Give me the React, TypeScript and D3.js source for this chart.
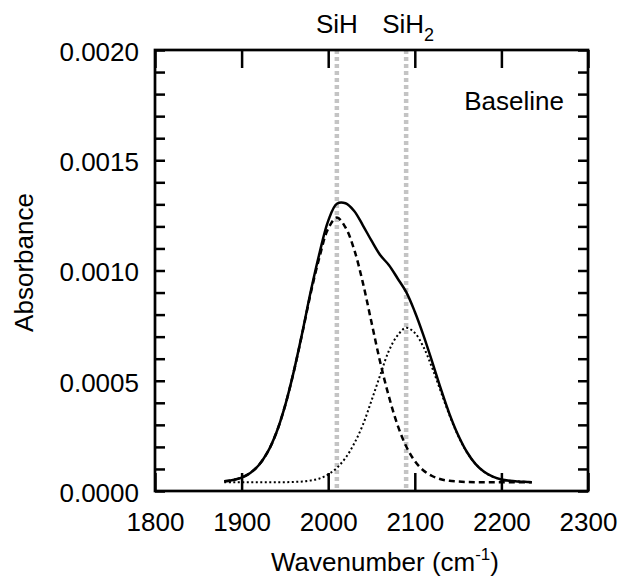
import React, { useEffect, useRef } from 'react';
import * as d3 from 'd3';

// wavenumber grid (cm-1)
const wavenumbers = [
  1880, 1890, 1900, 1910, 1920, 1930, 1940, 1950, 1960, 1970,
  1980, 1990, 2000, 2010, 2020, 2030, 2040, 2050, 2060, 2070,
  2080, 2090, 2100, 2110, 2120, 2130, 2140, 2150, 2160, 2170,
  2180, 2190, 2200, 2210, 2220, 2230, 2235,
];

// measured spectrum (solid)
const totalAbs = [
  0.000044, 0.00005, 0.000061, 0.000082, 0.000118, 0.000176, 0.000263, 0.000384, 0.000538, 0.000717,
  0.000908, 0.001079, 0.001225, 0.001303, 0.001305, 0.00127, 0.001205, 0.001135, 0.00107, 0.001025,
  0.000965, 0.000903, 0.000813, 0.000706, 0.000587, 0.000464, 0.00035, 0.000254, 0.000178, 0.000123,
  0.000087, 0.000065, 0.000052, 0.000046, 0.000043, 0.000041, 0.00004,
];

// SiH component (dashed)
const sihAbs = [
  0.000044, 0.00005, 0.000061, 0.000082, 0.000118, 0.000176, 0.000263, 0.000384, 0.000537, 0.000714,
  0.0009, 0.001062, 0.00119, 0.00124, 0.001195, 0.001095, 0.000945, 0.000765, 0.000585, 0.00043,
  0.0003, 0.000203, 0.000136, 0.000093, 0.000068, 0.000053, 0.000046, 0.000043, 0.000041, 0.00004,
  0.00004, 0.00004, 0.00004, 0.00004, 0.00004, 0.00004, 0.00004,
];

// SiH2 component (dotted)
const sih2Abs = [
  0.00004, 0.00004, 0.00004, 0.00004, 0.00004, 0.00004, 0.00004, 0.00004, 0.000041, 0.000043,
  0.000048, 0.000057, 0.000075, 0.000105, 0.00015, 0.000215, 0.0003, 0.00041, 0.000525, 0.000635,
  0.000705, 0.00074, 0.000717, 0.000653, 0.000559, 0.000451, 0.000344, 0.000251, 0.000177, 0.000123,
  0.000087, 0.000065, 0.000052, 0.000046, 0.000043, 0.000041, 0.00004,
];

const peakPositions = [2010, 2090];
const xTicks = [1800, 1900, 2000, 2100, 2200, 2300];
const yTicks = [
  0, 0.0001, 0.0002, 0.0003, 0.0004, 0.0005, 0.0006, 0.0007, 0.0008, 0.0009, 0.001,
  0.0011, 0.0012, 0.0013, 0.0014, 0.0015, 0.0016, 0.0017, 0.0018, 0.0019, 0.002,
];

const WIDTH = 623;
const HEIGHT = 577;
const FONT = '"Liberation Sans", Arial, Helvetica, sans-serif';
const margin = { top: 50, right: 35, bottom: 86, left: 155 };

const x = d3.scaleLinear().domain([1800, 2300]).range([margin.left, WIDTH - margin.right]);
const y = d3.scaleLinear().domain([0, 0.002]).range([HEIGHT - margin.bottom, margin.top]);

const isMajor = (d: number) => Math.round(d * 10000) % 5 === 0;

export default function App() {
  const bottomRef = useRef<SVGGElement>(null);
  const topRef = useRef<SVGGElement>(null);
  const leftRef = useRef<SVGGElement>(null);
  const rightRef = useRef<SVGGElement>(null);

  useEffect(() => {
    const style = (g: any) => {
      g.attr('font-family', FONT).attr('font-size', 26);
      g.select('.domain').remove();
      g.selectAll('line').attr('stroke', '#000').attr('stroke-width', 2.5);
      g.selectAll('text').attr('fill', '#000');
    };

    d3.select(bottomRef.current)
      .call(
        d3.axisBottom(x).tickValues(xTicks).tickSizeInner(-18).tickSizeOuter(0)
          .tickPadding(22).tickFormat(d3.format('d') as any)
      )
      .call(style);

    d3.select(topRef.current)
      .call(d3.axisTop(x).tickValues(xTicks).tickSizeInner(-18).tickSizeOuter(0).tickFormat(() => ''))
      .call(style);

    d3.select(leftRef.current)
      .call(
        d3.axisLeft(y).tickValues(yTicks).tickSizeInner(-10).tickSizeOuter(0).tickPadding(16)
          .tickFormat((d: any) => (isMajor(d) ? d3.format('.4f')(d) : ''))
      )
      .call(style);
    d3.select(leftRef.current).selectAll('text').attr('dy', '0.4em');

    d3.select(rightRef.current)
      .call(d3.axisRight(y).tickValues(yTicks).tickSizeInner(-10).tickSizeOuter(0).tickFormat(() => ''))
      .call(style);
  }, []);

  const line = (vals: number[]) =>
    d3.line<number>()
      .x((_, i) => x(wavenumbers[i]))
      .y((d) => y(d))
      .curve(d3.curveCatmullRom.alpha(0.5))(vals) || '';

  const plotBottom = HEIGHT - margin.bottom;

  return (
    <svg
      width={WIDTH}
      height={HEIGHT}
      style={{ position: 'absolute', left: 0, top: 0, background: '#fff' }}
      fontFamily={FONT}
    >
      {/* peak position markers */}
      {peakPositions.map((p) => (
        <line
          key={p}
          x1={x(p)}
          x2={x(p)}
          y1={margin.top}
          y2={plotBottom}
          stroke="#c4c4c4"
          strokeWidth={4.5}
          strokeDasharray="4,3"
        />
      ))}

      <path d={line(sih2Abs)} fill="none" stroke="#000" strokeWidth={2} strokeDasharray="2,2.5" />
      <path d={line(sihAbs)} fill="none" stroke="#000" strokeWidth={2.5} strokeDasharray="6,4" />
      <path d={line(totalAbs)} fill="none" stroke="#000" strokeWidth={2.5} />

      <g ref={bottomRef} transform={`translate(0,${plotBottom})`} />
      <g ref={topRef} transform={`translate(0,${margin.top})`} />
      <g ref={leftRef} transform={`translate(${margin.left},0)`} />
      <g ref={rightRef} transform={`translate(${WIDTH - margin.right},0)`} />

      <rect
        x={margin.left}
        y={margin.top}
        width={WIDTH - margin.left - margin.right}
        height={plotBottom - margin.top}
        fill="none"
        stroke="#000"
        strokeWidth={2.7}
      />

      <text x={x(peakPositions[0])} y={33} fontSize={26} textAnchor="middle">SiH</text>
      <text x={x(peakPositions[1]) - 24} y={33} fontSize={26}>
        SiH<tspan fontSize={18} dy={8}>2</tspan>
      </text>
      <text x={WIDTH - margin.right - 24} y={110} fontSize={26} textAnchor="end">Baseline</text>

      <text x={385} y={571} fontSize={26} textAnchor="middle">
        Wavenumber (cm<tspan fontSize={17} dy={-11}>-1</tspan><tspan dy={11}>)</tspan>
      </text>
      <text
        transform={`translate(33,${(margin.top + plotBottom) / 2 - 8}) rotate(-90)`}
        fontSize={26}
        textAnchor="middle"
      >
        Absorbance
      </text>
    </svg>
  );
}
